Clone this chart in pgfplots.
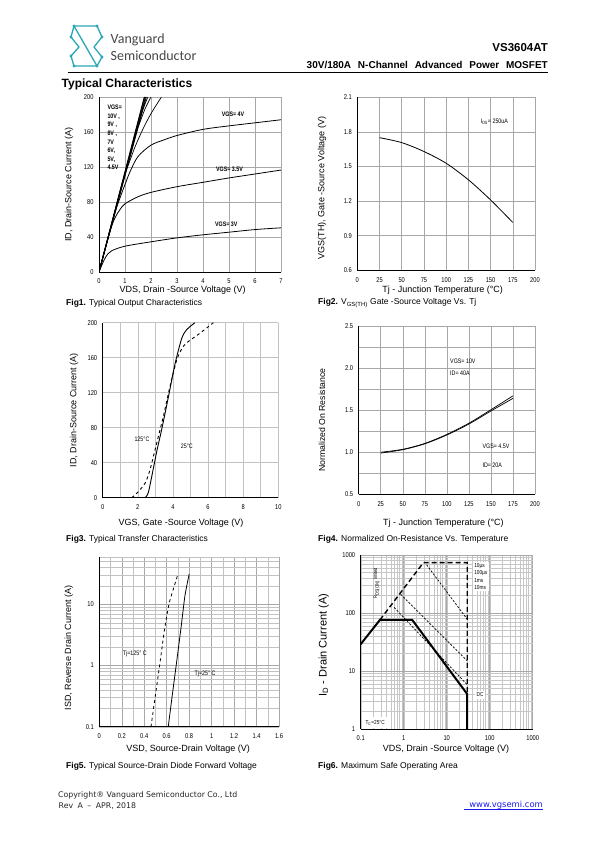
\documentclass[border=0pt]{standalone}
\usepackage{fontspec}
\setmainfont{Liberation Sans}
\newfontfamily\narrowfont[FakeStretch=0.82]{Liberation Sans}
\newfontfamily\carlito{Carlito}
\newfontfamily\dejavu{DejaVu Sans}
\usepackage{pgfplots}
\pgfplotsset{compat=1.18}
\definecolor{logoteal}{HTML}{2AA7B6}
\definecolor{linkblue}{HTML}{1A1AEE}
\definecolor{gridgray}{HTML}{A8A8A8}
\newcommand{\tickfont}{\narrowfont\fontsize{7}{8}\selectfont}
\newcommand{\lblfont}{\fontsize{9}{10}\selectfont}
\newcommand{\annfont}{\narrowfont\fontsize{6.5}{7.5}\selectfont}
\pgfplotsset{
  ds/.style={
    scale only axis,
    axis x line*=bottom, axis y line*=left,
    axis line style={-,black,line width=0.9pt},
    major tick length=0pt, minor tick length=0pt,
    grid=major,
    major grid style={draw=gridgray,line width=0.5pt},
    minor grid style={draw=gridgray!80,line width=0.4pt},
    ticklabel style={font=\tickfont},
    xticklabel style={yshift=-3.5pt},
    yticklabel style={xshift=-2pt},
    every axis x label/.style={font=\lblfont, anchor=center},
    every axis y label/.style={font=\lblfont, anchor=center, rotate=90},
    /pgf/number format/assume math mode=true,
    /pgf/number format/1000 sep={},
    clip mode=individual,
  },
}
\begin{document}
\begin{tikzpicture}
\fill[white] (0pt,0pt) rectangle (595pt,-842pt);
\path[use as bounding box] (0pt,0pt) rectangle (595pt,-842pt);

% ---------------- Fig1 ----------------
\begin{axis}[ds, at={(99pt,-272pt)}, anchor=south west, width=182pt, height=175pt,
  xmin=0, xmax=7, ymin=0, ymax=200, xtick={0,1,...,7}, ytick={0,40,...,200},
  xlabel={VDS, Drain -Source Voltage (V)}, ylabel={ID, Drain-Source Current (A)},
  xlabel style={at={(axis description cs:0.46,-0.105)}},
  ylabel style={at={(axis description cs:-0.165,0.5)}}]
\addplot[black, line width=0.8pt] coordinates {(0,0) (1.74,200)};
\addplot[black, line width=0.8pt] coordinates {(0,0) (1.76,200)};
\addplot[black, line width=0.8pt] coordinates {(0,0) (1.79,200)};
\addplot[black, line width=0.8pt] coordinates {(0,0) (1.82,200)};
\addplot[black, line width=0.7pt, smooth, tension=0.5] coordinates {(0,0) (1.5,167) (1.72,188) (1.88,200)};
\addplot[black, line width=0.7pt, smooth, tension=0.5] coordinates {(0,0) (1.3,146) (1.55,169) (1.78,187) (2.0,200)};
\addplot[black, line width=0.7pt, smooth, tension=0.5] coordinates {(0,0) (0.9,102) (1.15,124) (1.4,144) (1.7,164) (2.0,181) (2.4,200)};
\addplot[black, line width=0.8pt, smooth, tension=0.5] coordinates {(0,0) (0.6,66) (0.8,84) (1.0,100) (1.2,115) (1.5,132) (2,145) (2.5,151) (3,156) (4,163) (5,167) (6,170.5) (7,174)};
\addplot[black, line width=0.8pt, smooth, tension=0.5] coordinates {(0,0) (0.4,44) (0.6,61) (0.8,71) (1,78) (1.5,86) (2,91) (3,97.5) (4,102.5) (5,107.5) (6,112) (7,116.5)};
\addplot[black, line width=0.8pt, smooth, tension=0.5] coordinates {(0,0) (0.2,14) (0.35,21) (0.5,24.5) (1,29.5) (2,34.5) (3,39) (4,42.5) (5,45.5) (6,48.5) (7,50.5)};
\node[font=\annfont\bfseries, anchor=west] at (axis cs:4.59,180) {VGS= 4V};
\node[font=\annfont\bfseries, anchor=west] at (axis cs:4.37,117.5) {VGS= 3.5V};
\node[font=\annfont\bfseries, anchor=west] at (axis cs:4.33,54.7) {VGS= 3V};
\node[font=\narrowfont\bfseries\fontsize{6.5}{8.6}\selectfont, anchor=north west, align=left, inner sep=0pt] at (axis cs:0.32,191) {VGS=\\10V ,\\9V ,\\8V ,\\7V\\6V,\\5V,\\4.5V};
\end{axis}

% ---------------- Fig2 ----------------
\begin{axis}[ds, at={(357.3pt,-270.3pt)}, anchor=south west, width=177.7pt, height=173pt,
  xmin=0, xmax=200, ymin=0.6, ymax=2.1, xtick={0,25,...,200},
  ytick={0.6,0.9,1.2,1.5,1.8,2.1}, yticklabels={0.6,0.9,1.2,1.5,1.8,2.1},
  xlabel={Tj - Junction Temperature (°C)}, ylabel={VGS(TH), Gate -Source Voltage (V)},
  xlabel style={at={(axis description cs:0.48,-0.114)}},
  ylabel style={at={(axis description cs:-0.199,0.476)}}]
\addplot[black, line width=0.8pt, smooth] coordinates {(25,1.75) (50,1.707) (75,1.63) (100,1.528) (125,1.385) (150,1.21) (175,1.015)};
\node[font=\annfont, anchor=west] at (axis cs:135,1.889) {I\textsubscript{DS}= 250uA};
\end{axis}

% ---------------- Fig3 ----------------
\begin{axis}[ds, at={(102.7pt,-497.7pt)}, anchor=south west, width=175.6pt, height=175pt,
  xmin=0, xmax=10, ymin=0, ymax=200, xtick={0,2,...,10}, minor x tick num=1, ytick={0,40,...,200},
  grid=both, minor grid style={draw=gridgray!70,line width=0.5pt}, major grid style={draw=gridgray!70,line width=0.5pt},
  xlabel={VGS, Gate -Source Voltage (V)}, ylabel={ID, Drain-Source Current (A)},
  xlabel style={at={(axis description cs:0.446,-0.146)}},
  ylabel style={at={(axis description cs:-0.163,0.5)}}]
\addplot[black, line width=0.9pt, smooth, tension=0.45] coordinates {(2.41,0) (2.6,6) (2.88,33) (3.1,55) (3.36,78) (3.74,115) (4.12,153) (4.5,182) (4.78,192) (5.25,200)};
\addplot[black, line width=0.9pt, dashed, smooth, tension=0.45] coordinates {(1.65,0) (1.94,5) (2.41,16.5) (2.69,31.7) (3.07,62) (3.45,92.6) (3.83,127) (4.21,157) (4.5,170) (4.78,177) (5.54,188) (6.3,200)};
\node[font=\annfont, anchor=west] at (axis cs:1.61,66.7) {125°C};
\node[font=\annfont, anchor=west] at (axis cs:4.25,59) {25°C};
\end{axis}

% ---------------- Fig4 ----------------
\begin{axis}[ds, at={(358.7pt,-494.3pt)}, anchor=south west, width=176.3pt, height=168.3pt,
  xmin=0, xmax=200, ymin=0.5, ymax=2.5, xtick={0,25,...,200},
  ytick={0.5,1,1.5,2,2.5}, yticklabels={0.5,1.0,1.5,2.0,2.5}, minor y tick num=1, grid=both,
  minor grid style={draw=gridgray,line width=0.5pt},
  xlabel={Tj - Junction Temperature (°C)}, ylabel={Normalized On Resistance},
  ylabel style={font=\fontsize{8.7}{10}\selectfont},
  xlabel style={at={(axis description cs:0.48,-0.17)}},
  ylabel style={at={(axis description cs:-0.208,0.441)}}]
\addplot[black, line width=0.7pt, smooth] coordinates {(25,1.0) (50,1.035) (75,1.105) (100,1.212) (125,1.345) (150,1.505) (175,1.67)};
\addplot[black, line width=0.7pt, smooth] coordinates {(25,0.99) (50,1.03) (75,1.10) (100,1.205) (125,1.335) (150,1.49) (175,1.64)};
\node[font=\annfont, anchor=west] at (axis cs:99.8,2.076) {VGS= 10V};
\node[font=\annfont, anchor=west] at (axis cs:99.8,1.938) {ID= 40A};
\node[font=\annfont, anchor=west] at (axis cs:136.5,1.066) {VGS= 4.5V};
\node[font=\annfont, anchor=west] at (axis cs:136.5,0.848) {ID= 20A};
\end{axis}

% ---------------- Fig5 ----------------
\begin{axis}[ds, at={(99.3pt,-726.7pt)}, anchor=south west, width=179.7pt, height=170pt,
  xmin=0, xmax=1.6, ymode=log, ymin=0.1, ymax=60,
  xtick={0,0.2,0.4,0.6,0.8,1,1.2,1.4,1.6}, xticklabels={0,0.2,0.4,0.6,0.8,1,1.2,1.4,1.6},
  minor x tick num=1, log ticks with fixed point, grid=both,
  minor grid style={draw=gridgray!70,line width=0.4pt},
  xlabel={VSD, Source-Drain Voltage (V)}, ylabel={ISD, Reverse Drain Current (A)},
  xlabel style={at={(axis description cs:0.494,-0.131)}},
  ylabel style={at={(axis description cs:-0.17,0.463)}}]
\addplot[black, line width=0.8pt, dashed, smooth, tension=0.4] coordinates {(0.46,0.1) (0.50,0.33) (0.54,1.1) (0.58,3.8) (0.62,10) (0.66,18) (0.70,31)};
\addplot[black, line width=0.8pt, smooth, tension=0.4] coordinates {(0.614,0.1) (0.65,0.33) (0.69,1.2) (0.73,4.5) (0.763,14) (0.80,31)};
\node[font=\annfont, anchor=west] at (axis cs:0.178,1.58) {Tj=125° C};
\node[font=\annfont, anchor=west] at (axis cs:0.817,0.72) {Tj=25° C};
\end{axis}

% ---------------- Fig6 ----------------
\begin{axis}[ds, at={(360.7pt,-729pt)}, anchor=south west, width=172pt, height=174pt,
  xmode=log, ymode=log, xmin=0.1, xmax=1000, ymin=1, ymax=1000,
  log ticks with fixed point, grid=both,
  minor grid style={draw=gridgray!65,line width=0.4pt},
  xlabel={VDS, Drain -Source Voltage (V)}, ylabel={I\textsubscript{D} - Drain Current (A)},
  ylabel style={font=\fontsize{11}{12}\selectfont},
  xlabel style={at={(axis description cs:0.496,-0.115)}},
  ylabel style={at={(axis description cs:-0.215,0.483)}}]
\addplot[black, line width=0.7pt, dash pattern=on 2.2pt off 1.5pt] coordinates {(3.4,680) (30,78)};
\addplot[black, line width=0.7pt, dash pattern=on 2.2pt off 1.5pt] coordinates {(0.85,210) (30,15)};
\addplot[black, line width=0.7pt, dash pattern=on 2.2pt off 1.5pt] coordinates {(0.6,125) (30,5.8)};
\addplot[black, line width=1.4pt, dash pattern=on 5pt off 3pt] coordinates {(0.28,76) (2.86,737) (30,737) (30,4)};
\addplot[black, line width=2pt] coordinates {(0.1,29) (0.28,76) (1.58,76) (30,4) (30,1)};
\node[font=\narrowfont\fontsize{5}{6}\selectfont, rotate=90, anchor=center] at (axis cs:0.235,325) {R\textsubscript{DS(ON)} limited};
\node[font=\narrowfont\fontsize{5.8}{7.2}\selectfont, anchor=north west, align=left, fill=white, inner sep=1.5pt] at (axis cs:40,760) {10µs\\100µs\\1ms\\10ms};
\node[font=\narrowfont\fontsize{5.8}{7}\selectfont, anchor=west, fill=white, inner sep=2pt] at (axis cs:44,3.86) {DC};
\node[font=\narrowfont\fontsize{5.8}{7}\selectfont, anchor=south west, fill=white, inner sep=2.5pt] at (axis cs:0.112,1.05) {T\textsubscript{C}=25°C};
\end{axis}

% ---------------- page decorations ----------------
\begin{scope}[x=1pt, y=-1pt]
% logo
\begin{scope}[draw=logoteal, line width=1.3pt, line cap=round, line join=round]
\draw (74,26)--(97,26)--(102,37);
\draw (74,26)--(71,37)--(79,47);
\draw (74,26)--(97,66);
\draw (97,66)--(74,66)--(71,56)--(79,47);
\draw (102,37)--(94,47)--(102,57)--(97,66);
\foreach \p in {(74,26),(97,26),(102,37),(71,37),(97,66),(74,66),(71,56),(102,57)} \fill[logoteal] \p circle (1.7);
\end{scope}
\node[font=\carlito\fontsize{14}{16}\selectfont, text=black!72, anchor=base west, inner sep=0pt] at (110.5,43.5) {Vanguard};
\node[font=\carlito\fontsize{14}{16}\selectfont, text=black!72, anchor=base west, inner sep=0pt] at (110.5,60.5) {Semiconductor};
\node[font=\bfseries\fontsize{11.5}{13}\selectfont, anchor=base east, inner sep=0pt] at (548,52) {VS3604AT};
\node[font=\bfseries\fontsize{10}{12}\selectfont, anchor=base east, inner sep=0pt] at (548,69) {30V/180A\hspace{4pt} N-Channel\hspace{4pt} Advanced\hspace{4pt} Power\hspace{4pt} MOSFET};
\draw[black, line width=0.9pt] (67.5,72) -- (548,72);
\node[font=\bfseries\fontsize{12}{14}\selectfont, anchor=base west, inner sep=0pt] at (61.5,87.5) {Typical Characteristics};
% captions
\node[font=\fontsize{8.5}{10}\selectfont, anchor=west, inner sep=0pt] at (66,303) {\textbf{Fig1.} Typical Output Characteristics};
\node[font=\fontsize{8.5}{10}\selectfont, anchor=west, inner sep=0pt] at (318,303) {\textbf{Fig2.} V\textsubscript{GS(TH)} Gate -Source Voltage Vs. Tj};
\node[font=\fontsize{8.5}{10}\selectfont, anchor=west, inner sep=0pt] at (66,539) {\textbf{Fig3.} Typical Transfer Characteristics};
\node[font=\fontsize{8.5}{10}\selectfont, anchor=west, inner sep=0pt] at (318,539) {\textbf{Fig4.} Normalized On-Resistance Vs. Temperature};
\node[font=\fontsize{8.5}{10}\selectfont, anchor=west, inner sep=0pt] at (66,766) {\textbf{Fig5.} Typical Source-Drain Diode Forward Voltage};
\node[font=\fontsize{8.5}{10}\selectfont, anchor=west, inner sep=0pt] at (318,766) {\textbf{Fig6.} Maximum Safe Operating Area};
% footer
\node[font=\dejavu\fontsize{7.8}{9}\selectfont, text=black!85, anchor=base west, inner sep=0pt] at (58,797) {Copyright® Vanguard Semiconductor Co., Ltd};
\node[font=\dejavu\fontsize{7.8}{9}\selectfont, text=black!85, anchor=base west, inner sep=0pt] at (58.5,808) {Rev\hspace{2pt} A\hspace{2pt} –\hspace{2pt} APR, 2018};
\node[font=\dejavu\fontsize{8.4}{9}\selectfont, text=linkblue, anchor=base east, inner sep=0pt] at (543,807) {www.vgsemi.com};
\draw[linkblue, line width=0.5pt] (463.8,808.8) -- (543,808.8);
\end{scope}
\end{tikzpicture}
\end{document}
